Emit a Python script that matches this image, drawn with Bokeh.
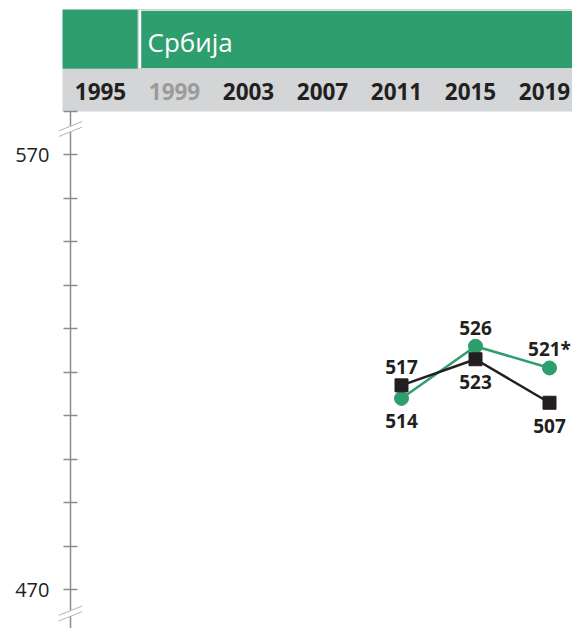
from bokeh.plotting import figure
from bokeh.models import LinearAxis, FixedTicker, Range1d
from bokeh.core.properties import value
from bokeh.embed import file_html
from bokeh.resources import INLINE

# ---------------- data ----------------
header_years = [1995, 1999, 2003, 2007, 2011, 2015, 2019]
muted_years = [1999]
country = "Србија"

years = [2011, 2015, 2019]
green_values = [514, 526, 521]
green_labels = ["514", "526", "521*"]
black_values = [517, 523, 513]
black_labels = ["517", "523", "507"]

axis_major_ticks = [470, 570]
axis_minor_ticks = [480, 490, 500, 510, 520, 530, 540, 550, 560, 580]

# ---------------- styles ----------------
GREEN = "#2e9e6e"
BLACK = "#231f20"
GREY_BAND = "#d4d5d7"
AXIS_GREY = "#8c8c8c"
MUTED = "#9b9b9b"

W, H = 572, 628
PX_PER_YEAR = 18.5
PX_PER_UNIT = 4.35
x_start = 2015 - 475 / PX_PER_YEAR
x_end = x_start + W / PX_PER_YEAR
y_end = 570 + 154.3 / PX_PER_UNIT
y_start = y_end - H / PX_PER_UNIT


def X(px):  # canvas pixel -> data x (for decorations only)
    return x_start + px / PX_PER_YEAR


def Y(py):  # canvas pixel -> data y (for decorations only)
    return y_end - py / PX_PER_UNIT


p = figure(width=W, height=H, output_backend="svg", toolbar_location=None,
           x_range=Range1d(x_start, x_end), y_range=Range1d(y_start, y_end),
           x_axis_type=None, y_axis_type=None, min_border=0)
p.outline_line_color = None
p.background_fill_color = "white"
p.border_fill_color = "white"

# ---------------- header ----------------
p.quad(left=[X(62)], right=[X(573)], top=[Y(68)], bottom=[Y(111)],
       fill_color=GREY_BAND, line_color=None)
p.quad(left=[X(62)], right=[X(137.3)], top=[Y(9)], bottom=[Y(68.3)],
       fill_color=GREEN, line_color=None)
p.quad(left=[X(137.8)], right=[X(574)], top=[Y(9)], bottom=[Y(68)],
       fill_color="white", line_color="#cfcfcf", line_width=1)
p.quad(left=[X(140.7)], right=[X(574)], top=[Y(10.3)], bottom=[Y(67.5)],
       fill_color=GREEN, line_color=None)
p.text(x=[X(147)], y=[Y(41)], text=[country], text_color="white",
       text_font=value("Open Sans"), text_font_size="26px",
       text_align="left", text_baseline="alphabetic")

year_colors = [MUTED if yr in muted_years else BLACK for yr in header_years]
p.text(x=header_years, y=[Y(90.8)] * len(header_years),
       text=[str(yr) for yr in header_years], text_color=year_colors,
       text_font=value("Open Sans"), text_font_style="bold", text_font_size="22.5px",
       text_align="center", text_baseline="alphabetic", x_offset=-5)

# ---------------- y axis ----------------
yaxis = LinearAxis(ticker=FixedTicker(ticks=axis_major_ticks, minor_ticks=axis_minor_ticks),
                   fixed_location=X(70), bounds=(y_start, 580))
yaxis.axis_line_color = AXIS_GREY
yaxis.axis_line_width = 1.5
yaxis.major_tick_line_color = AXIS_GREY
yaxis.minor_tick_line_color = AXIS_GREY
yaxis.major_tick_line_width = 1.5
yaxis.minor_tick_line_width = 1.5
yaxis.major_tick_in = 7
yaxis.major_tick_out = 7
yaxis.minor_tick_in = 7
yaxis.minor_tick_out = 7
yaxis.major_label_text_font = "Open Sans"
yaxis.major_label_text_font_size = "20px"
yaxis.major_label_text_color = BLACK
yaxis.major_label_standoff = 14
p.add_layout(yaxis, "left")

# axis break marks
for cy in (128.5, 613.0):
    half_w, rise, gap = 11.7, 4.7, 2.8
    xs = [X(70 - half_w), X(70 + half_w), X(70 + half_w), X(70 - half_w)]
    ys = [Y(cy - gap + rise), Y(cy - gap - rise), Y(cy + gap - rise), Y(cy + gap + rise)]
    patch = p.patch(xs, ys, fill_color="white", line_color=None)
    patch.level = "overlay"
    seg = p.segment(x0=[xs[0], xs[3]], y0=[ys[0], ys[3]], x1=[xs[1], xs[2]], y1=[ys[1], ys[2]],
                    line_color="#b5b5b5", line_width=1)
    seg.level = "overlay"

# ---------------- series ----------------
p.line(years, green_values, line_color=GREEN, line_width=2.5)
p.scatter(years, green_values, marker="circle", size=14, fill_color=GREEN, line_color=GREEN)
p.line(years, black_values, line_color=BLACK, line_width=2.5)
p.scatter(years, black_values, marker="square", size=13, fill_color=BLACK, line_color=BLACK)

# value labels: above for the higher series at each year, below for the lower
above_x, above_y, above_t, below_x, below_y, below_t = [], [], [], [], [], []
for i, yr in enumerate(years):
    g_up = green_values[i] >= black_values[i]
    for val, lab, up in ((green_values[i], green_labels[i], g_up),
                         (black_values[i], black_labels[i], not g_up)):
        if up:
            above_x.append(yr); above_y.append(val); above_t.append(lab)
        else:
            below_x.append(yr); below_y.append(val); below_t.append(lab)

p.text(x=above_x, y=above_y, text=above_t, text_color=BLACK,
       text_font=value("Open Sans"), text_font_style="bold", text_font_size="19px",
       text_align="center", text_baseline="alphabetic", y_offset=-18.5)
p.text(x=below_x, y=below_y, text=below_t, text_color=BLACK,
       text_font=value("Open Sans"), text_font_style="bold", text_font_size="19px",
       text_align="center", text_baseline="alphabetic", y_offset=23)

open("out.html", "w").write(file_html(p, INLINE))
